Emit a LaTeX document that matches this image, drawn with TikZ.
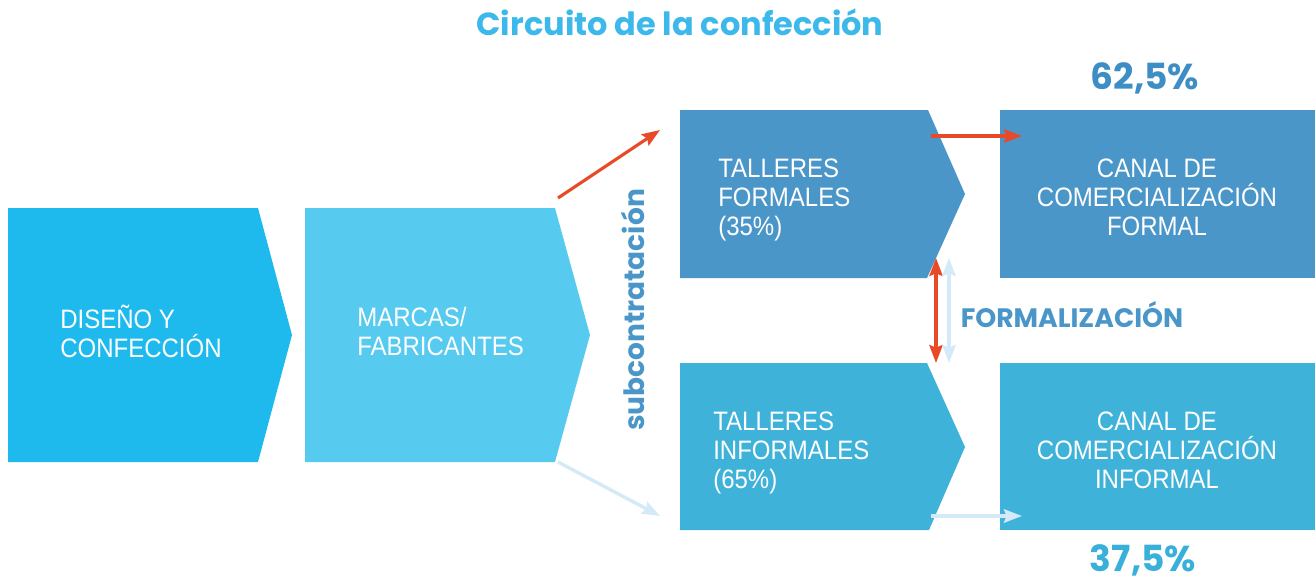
\documentclass[tikz,border=0pt]{standalone}
\usepackage{fontspec}
\setmainfont{Liberation Sans}
\newfontfamily\condfont[FakeStretch=0.9]{Liberation Sans}
\newfontfamily\headfont{Poppins}
\usetikzlibrary{arrows.meta}

\definecolor{diseno}{HTML}{1EBAED}
\definecolor{marcas}{HTML}{56CAEF}
\definecolor{formal}{HTML}{4A96C9}
\definecolor{informal}{HTML}{3FB2D9}
\definecolor{titulo}{HTML}{3CB9EA}
\definecolor{flecha}{HTML}{E84A27}
\definecolor{tenue}{HTML}{D5EAF8}
\definecolor{pctalto}{HTML}{3E8EC6}
\definecolor{pctbajo}{HTML}{39B0DA}

\begin{document}
\begin{tikzpicture}[x=0.75pt,y=-0.75pt,
    >={Stealth[length=13.5pt,width=10pt,inset=2pt]},
    boxtext/.style={text=white, inner sep=0pt, align=left,
      font=\condfont\fontsize{20}{21.75}\selectfont},
    headtext/.style={inner sep=0pt, font=\headfont\bfseries},
    flow/.style={line width=2.3pt, draw=flecha, fill=flecha},
    flowlight/.style={line width=2.6pt, draw=tenue, fill=tenue}]
  \useasboundingbox (0,0) rectangle (1315,582);

  % chevrons and boxes
  \fill[diseno] (8,208) -- (258,208) -- (292,335) -- (258,462) -- (8,462) -- cycle;
  \fill[marcas] (305,208) -- (555,208) -- (590,335) -- (555,462) -- (305,462) -- cycle;
  \fill[formal] (680,110) -- (928,110) -- (965,194) -- (927,278) -- (680,278) -- cycle;
  \fill[informal] (680,363) -- (927,363) -- (965,447) -- (929,530) -- (680,530) -- cycle;
  \fill[formal] (1000,110) rectangle (1315,278);
  \fill[informal] (1000,363) rectangle (1315,530);

  % texts
  \node[boxtext, anchor=west] (disenyo) at (60,331) {DISEÑO Y\\CONFECCIÓN};
  \node[boxtext, anchor=west] (marcas) at (357,331) {MARCAS/\\FABRICANTES};
  \node[boxtext, anchor=west] (tformal) at (718,200) {TALLERES\\FORMALES\\(35\%)};
  \node[boxtext, anchor=west] (tinformal) at (713,453) {TALLERES\\INFORMALES\\(65\%)};
  \node[boxtext, align=center] (cformal) at (1157,197) {CANAL DE\\COMERCIALIZACIÓN\\FORMAL};
  \node[boxtext, align=center] (cinformal) at (1157,450) {CANAL DE\\COMERCIALIZACIÓN\\INFORMAL};

  \node[headtext, text=titulo, font=\headfont\bfseries\fontsize{24}{28}\selectfont] (titulo) at (680,22) {Circuito de la confección};
  \node[headtext, text=pctalto, font=\headfont\bfseries\fontsize{27}{30}\selectfont] (alto) at (1145,78) {62,5\%};
  \node[headtext, text=pctbajo, font=\headfont\bfseries\fontsize{27}{30}\selectfont] (bajo) at (1143,560) {37,5\%};
  \node[headtext, text=formal, font=\headfont\bfseries\fontsize{20}{22}\selectfont] (formalizacion) at (1072,315) {FORMALIZACIÓN};
  \node[headtext, text=formal, rotate=90, font=\headfont\bfseries\fontsize{21}{24}\selectfont] (subc) at (633,310) {subcontratación};

  % connector ends
  \coordinate (a1) at (558,198);
  \coordinate (a2) at (660,130);
  \coordinate (b1) at (558,462);
  \coordinate (b2) at (660,516);
  \coordinate (c1) at (931,136);
  \coordinate (c2) at (1022,136);
  \coordinate (d1) at (931,516);
  \coordinate (d2) at (1022,516);
  \coordinate (e1) at (936,258);
  \coordinate (e2) at (936,363);
  \coordinate (f1) at (949,258);
  \coordinate (f2) at (949,363);

  \draw[flow, ->] (a1) -- (a2);
  \draw[flowlight, ->] (b1) -- (b2);
  \draw[flow, ->] (c1) -- (c2);
  \draw[flowlight, ->] (d1) -- (d2);
  \draw[flow, <->] (e1) -- (e2);
  \draw[flowlight, <->] (f1) -- (f2);
\end{tikzpicture}
\end{document}
